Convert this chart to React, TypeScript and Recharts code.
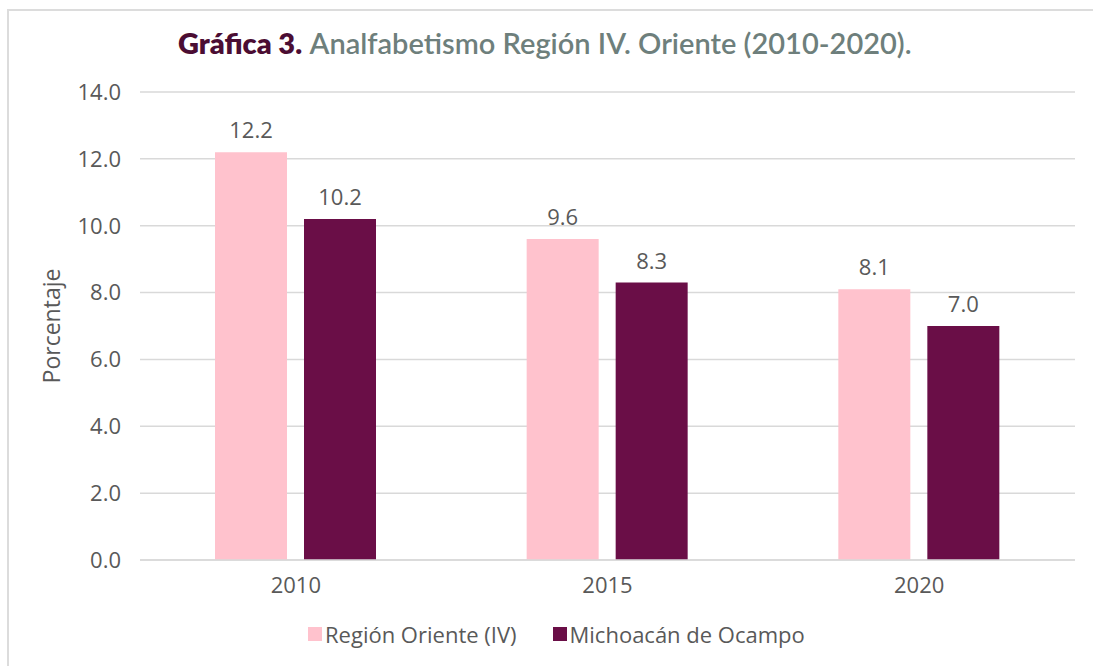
import { BarChart, Bar, XAxis, YAxis, CartesianGrid, LabelList } from "recharts";

const years = ["2010", "2015", "2020"];
const regionOriente = [12.2, 9.6, 8.1];
const michoacan = [10.2, 8.3, 7.0];
const yTicks = [0, 2, 4, 6, 8, 10, 12, 14];

const PINK = "#FFC2CD";
const PLUM = "#6A0E47";
const TEXT = "#595959";
const FONT = "'Open Sans', sans-serif";

const data = years.map((year, i) => ({
  year,
  region: regionOriente[i],
  michoacan: michoacan[i],
}));

function LegendItem({ color, label }: { color: string; label: string }) {
  return (
    <span style={{ display: "inline-flex", alignItems: "center", marginRight: 36 }}>
      <span style={{ width: 14, height: 14, background: color, marginRight: 3, display: "inline-block" }} />
      <span>{label}</span>
    </span>
  );
}

export default function App() {
  return (
    <div
      style={{
        position: "absolute",
        left: 0,
        top: 0,
        width: 1093,
        height: 666,
        overflow: "hidden",
        background: "#fff",
        fontFamily: FONT,
      }}
    >
      {/* outer frame, runs off the right and bottom edges */}
      <div
        style={{
          position: "absolute",
          left: 7,
          top: 9,
          width: 1200,
          height: 800,
          border: "2px solid #dcdcdc",
        }}
      />
      <div
        style={{
          position: "absolute",
          left: 178,
          top: 25,
          fontFamily: "Lato, sans-serif",
          fontSize: 29,
          whiteSpace: "nowrap",
        }}
      >
        <span style={{ color: "#4B0D33", fontWeight: 800 }}>Gráfica 3.</span>{" "}
        <span style={{ color: "#6E7F7C", fontWeight: 600 }}>Analfabetismo Región IV. Oriente (2010-2020).</span>
      </div>
      <div style={{ position: "absolute", left: 0, top: 0 }}>
        <BarChart
          width={1093}
          height={666}
          data={data}
          margin={{ top: 92, right: 18, bottom: 76, left: 10 }}
          barGap={17}
          barSize={72}
        >
          <CartesianGrid vertical={false} stroke="#d9d9d9" strokeWidth={1.5} />
          <XAxis
            dataKey="year"
            axisLine={{ stroke: "#d9d9d9", strokeWidth: 1.5 }}
            tickLine={false}
            tickMargin={11}
            height={30}
            tick={{ fill: TEXT, fontSize: 22, fontFamily: FONT }}
          />
          <YAxis
            width={130}
            domain={[0, 14]}
            ticks={yTicks}
            axisLine={false}
            tickLine={false}
            tickMargin={13}
            tickFormatter={(v) => Number(v).toFixed(1)}
            tick={{ fill: TEXT, fontSize: 22, fontFamily: FONT }}
            label={{
              value: "Porcentaje",
              angle: -90,
              position: "insideLeft",
              offset: 42,
              fill: TEXT,
              fontSize: 23,
              fontFamily: FONT,
              style: { textAnchor: "middle" },
            }}
          />
          <Bar dataKey="region" fill={PINK} isAnimationActive={false}>
            <LabelList
              dataKey="region"
              position="top"
              offset={14}
              formatter={(v: number) => v.toFixed(1)}
              fill={TEXT}
              fontSize={22}
              fontFamily={FONT}
            />
          </Bar>
          <Bar dataKey="michoacan" fill={PLUM} isAnimationActive={false}>
            <LabelList
              dataKey="michoacan"
              position="top"
              offset={14}
              formatter={(v: number) => v.toFixed(1)}
              fill={TEXT}
              fontSize={22}
              fontFamily={FONT}
            />
          </Bar>
        </BarChart>
      </div>
      <div
        style={{
          position: "absolute",
          left: 308,
          top: 619,
          fontSize: 22,
          color: TEXT,
          whiteSpace: "nowrap",
          display: "flex",
        }}
      >
        <LegendItem color={PINK} label="Región Oriente (IV)" />
        <LegendItem color={PLUM} label="Michoacán de Ocampo" />
      </div>
    </div>
  );
}
